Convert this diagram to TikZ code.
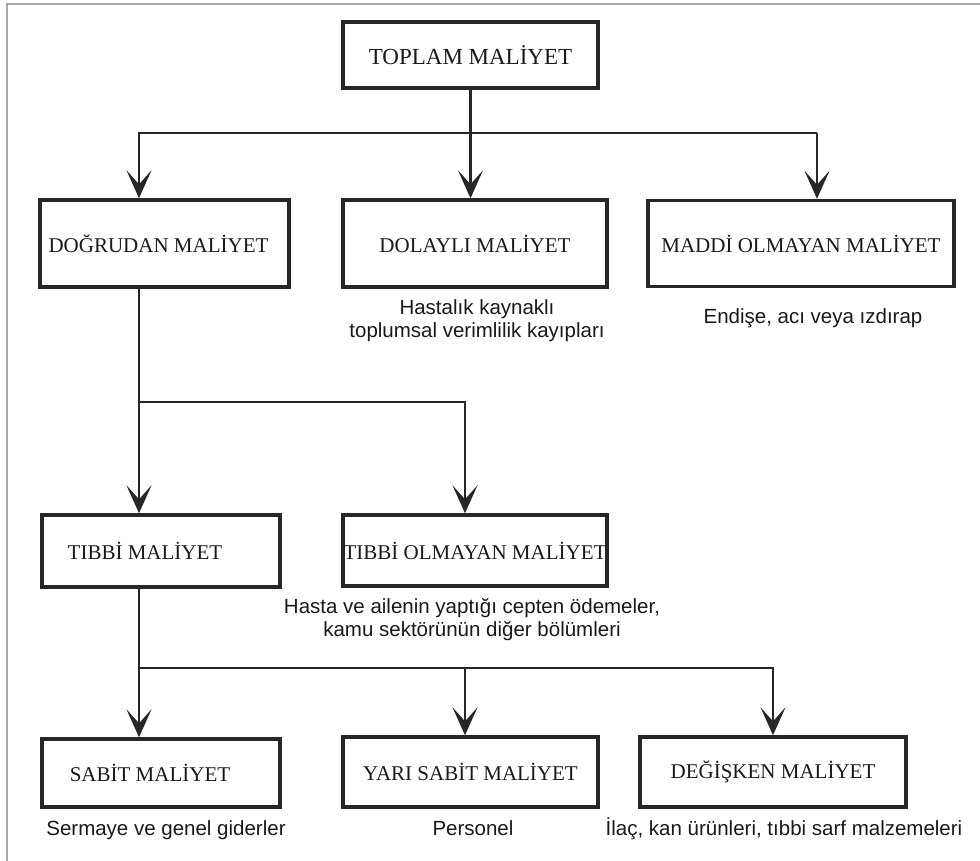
\documentclass[tikz,border=0pt]{standalone}
\usepackage{fontspec}
\setmainfont{Liberation Serif}
\newfontfamily\notefont{Liberation Sans}
\usetikzlibrary{arrows.meta}
\definecolor{ink}{HTML}{262626}
\definecolor{framegray}{HTML}{AAAAAA}

\begin{document}
\begin{tikzpicture}[x=1pt,y=-1pt]
\tikzset{box/.style={draw=ink, line width=3.4pt, text=black!90, inner sep=0pt,
  font=\fontsize{21}{24}\selectfont}}
\tikzset{note/.style={align=center, text=black!90, inner sep=0pt,
  font=\notefont\fontsize{20.5}{22.5}\selectfont}}
\tikzset{link/.style={draw=ink, line width=2.6pt}}
\tikzset{arr/.style={link, -{Stealth[length=28pt, width=25pt, inset=14pt]}}}
\useasboundingbox (0,0) rectangle (980,861);
\draw[framegray, line width=2pt] (7,861) -- (7,4) -- (980,4);
% boxes
\node[box, minimum width=255pt, minimum height=66pt, font=\fontsize{23}{26}\selectfont] (toplam) at (470.5,55) {TOPLAM MALİYET};
\node[box, minimum width=249pt, minimum height=87pt] (dogrudan) at (164.5,243.5) {DOĞRUDAN MALİYET\hspace*{12pt}};
\node[box, minimum width=264pt, minimum height=87pt] (dolayli) at (475,243.5) {DOLAYLI MALİYET};
\node[box, minimum width=306pt, minimum height=86pt] (maddi) at (801,243.5) {MADDİ OLMAYAN MALİYET};
\node[box, minimum width=238pt, minimum height=72pt] (tibbi) at (161,551) {TIBBİ MALİYET\hspace*{32pt}};
\node[box, minimum width=264pt, minimum height=71pt] (tibbiol) at (475,550.5) {TIBBİ OLMAYAN MALİYET};
\node[box, minimum width=238pt, minimum height=68pt] (sabit) at (161,773) {SABİT MALİYET\hspace*{22pt}};
\node[box, minimum width=255pt, minimum height=70pt] (yari) at (470.5,772) {YARI SABİT MALİYET};
\node[box, minimum width=266pt, minimum height=70pt] (degisken) at (773,772) {DEĞİŞKEN MALİYET};
% notes
\node[note, anchor=base] (n1) at (477,337) {Hastalık kaynaklı\\toplumsal verimlilik kayıpları};
\node[note, anchor=base] (n2) at (813,323) {Endişe, acı veya ızdırap};
\node[note, anchor=base] (n3) at (472,636) {Hasta ve ailenin yaptığı cepten ödemeler,\\kamu sektörünün diğer bölümleri};
\node[note, anchor=base] (n4) at (166,835) {Sermaye ve genel giderler};
\node[note, anchor=base] (n5) at (473,835) {Personel};
\node[note, anchor=base] (n6) at (784,835) {İlaç, kan ürünleri, tıbbi sarf malzemeleri};
% forks
\coordinate (f1) at (139,133);
\coordinate (f1r) at (817,133);
\coordinate (f2) at (139,402);
\coordinate (f2r) at (465,402);
\coordinate (f3) at (139,668);
\coordinate (f3m) at (465,668);
\coordinate (f3r) at (773,668);
\draw[arr] (toplam.south) -- (toplam.south |- dolayli.north);
\draw[arr] (f1r) -- (f1) -- (f1 |- dogrudan.north);
\draw[arr] (f1r) -- (f1r |- maddi.north);
\draw[arr] (f2 |- dogrudan.south) -- (f2) -- (f2 |- tibbi.north);
\draw[arr] (f2) -- (f2r) -- (f2r |- tibbiol.north);
\draw[arr] (f3 |- tibbi.south) -- (f3) -- (f3 |- sabit.north);
\draw[arr] (f3m) -- (f3m |- yari.north);
\draw[arr] (f3) -- (f3r) -- (f3r |- degisken.north);
\end{tikzpicture}
\end{document}
